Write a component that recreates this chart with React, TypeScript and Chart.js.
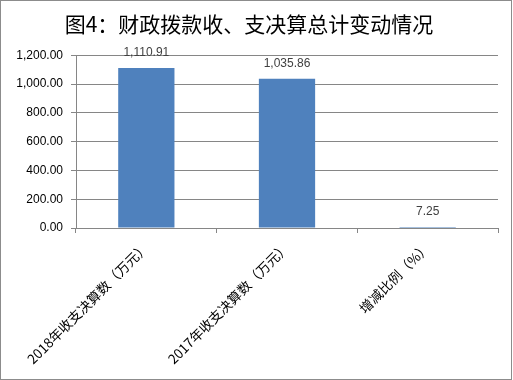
import React, { useEffect, useRef } from "react";
import { Chart, registerables } from "chart.js";

Chart.register(...registerables);

const categories = ["2018年收支决算数（万元）", "2017年收支决算数（万元）", "增减比例（%）"];
const values = [1110.91, 1035.86, 7.25];
const titleText = "图4：财政拨款收、支决算总计变动情况";
const yMax = 1200;
const yStep = 200;

const fmt = (v: number) =>
  v.toLocaleString("en-US", { minimumFractionDigits: 2, maximumFractionDigits: 2 });

const valueLabels = {
  id: "valueLabels",
  afterDatasetsDraw(chart: any) {
    const { ctx } = chart;
    const meta = chart.getDatasetMeta(0);
    ctx.save();
    ctx.font = '12px "Liberation Sans", Arial, sans-serif';
    ctx.fillStyle = "#404040";
    ctx.textAlign = "center";
    ctx.textBaseline = "bottom";
    meta.data.forEach((bar: any, i: number) => {
      ctx.fillText(fmt(values[i]), bar.x, bar.y - 9);
    });
    ctx.restore();
  },
};

export default function App() {
  const ref = useRef<HTMLCanvasElement>(null);

  useEffect(() => {
    document.body.style.margin = "0";
    const chart = new Chart(ref.current!, {
      type: "bar",
      data: {
        labels: categories,
        datasets: [
          {
            data: values,
            backgroundColor: "#4F81BD",
            borderWidth: 0,
            barPercentage: 0.4,
            categoryPercentage: 1,
          },
        ],
      },
      options: {
        animation: false,
        responsive: false,
        devicePixelRatio: 1,
        layout: { padding: { left: 0, right: 15, top: 0, bottom: 0 } },
        plugins: {
          legend: { display: false },
          tooltip: { enabled: false },
          title: {
            display: true,
            text: titleText,
            color: "#000",
            font: { family: '"Noto Sans CJK SC", sans-serif', size: 21, weight: "normal" },
            padding: { top: 11, bottom: 19 },
          },
        },
        scales: {
          x: {
            afterFit: (s: any) => {
              s.height = 152;
            },
            grid: {
              offset: true,
              drawOnChartArea: false,
              drawTicks: true,
              tickLength: 5,
              color: "#868686",
            },
            border: { display: true, color: "#868686" },
            ticks: {
              minRotation: 45,
              maxRotation: 45,
              autoSkip: false,
              padding: 6,
              color: "#000",
              font: { family: '"Noto Sans CJK SC", sans-serif', size: 13.5 },
            },
          },
          y: {
            min: 0,
            max: yMax,
            afterFit: (s: any) => {
              s.width = 76;
            },
            grid: { color: "#868686", tickLength: 5, drawTicks: true },
            border: { display: true, color: "#868686" },
            ticks: {
              stepSize: yStep,
              padding: 8,
              color: "#000",
              font: { family: '"Liberation Sans", Arial, sans-serif', size: 12 },
              callback: (v: any) => fmt(Number(v)),
            },
          },
        },
      },
      plugins: [valueLabels],
    });
    return () => chart.destroy();
  }, []);

  return (
    <div style={{ position: "relative", width: 513, height: 380 }}>
      <canvas ref={ref} width={513} height={380} style={{ display: "block" }} />
      <div
        style={{
          position: "absolute",
          left: 0,
          top: 0,
          width: 512,
          height: 380,
          boxSizing: "border-box",
          border: "1px solid #8c8c8c",
          pointerEvents: "none",
        }}
      />
    </div>
  );
}
